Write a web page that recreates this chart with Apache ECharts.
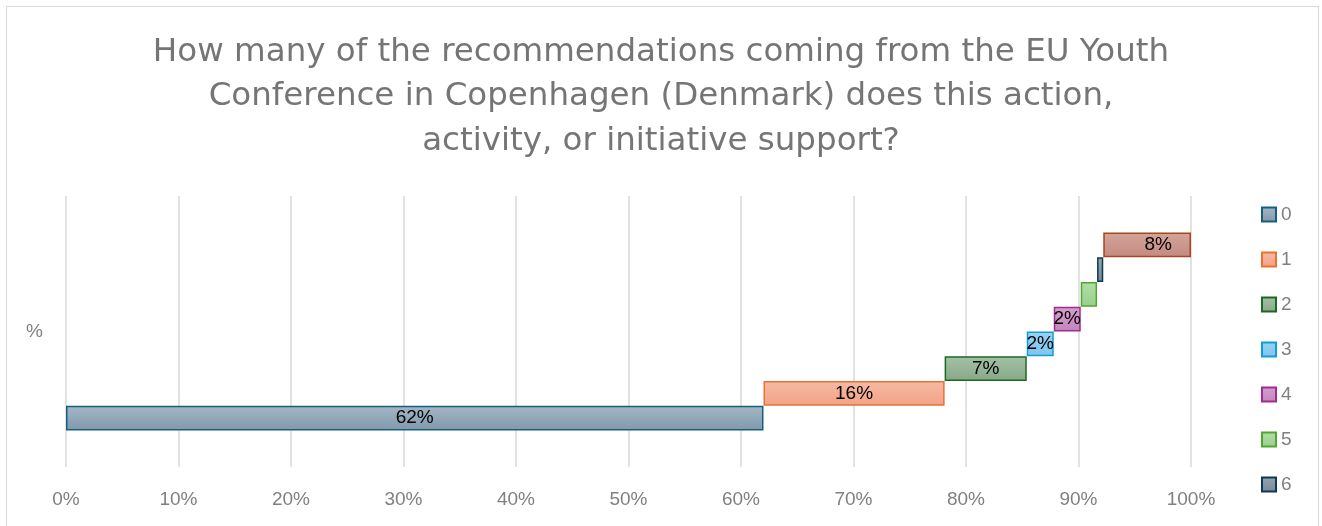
<!DOCTYPE html>
<html>
<head>
<meta charset="utf-8">
<script src="https://cdn.jsdelivr.net/npm/echarts@6/dist/echarts.min.js"></script>
<style>
  html, body { margin: 0; padding: 0; background: #fff; }
  #main { position: absolute; left: 0; top: 0; width: 1322px; height: 526px; }
  #frame { position: absolute; left: 6px; top: 6px; width: 1311px; height: 560px;
           border: 1.5px solid #d9d9d9; pointer-events: none; }
</style>
</head>
<body>
<div id="main"></div>
<div id="frame"></div>
<script>
// data
var categories = ['%'];
var seriesNames = ['0', '1', '2', '3', '4', '5', '6', '7'];
var values = [62.0, 16.1, 7.3, 2.4, 2.4, 1.45, 0.55, 7.8];
var xTicks = [0, 10, 20, 30, 40, 50, 60, 70, 80, 90, 100];
var legendNames = ['0', '1', '2', '3', '4', '5', '6'];

var borders = ['#156082', '#e97132', '#196b24', '#0f9ed5', '#a02b93', '#4ea72e', '#0e3a4f', '#a5461c'];
var fills = [
    ['#a3b6c5', '#8199ac'],
    ['#f6bba4', '#f1a286'],
    ['#a6c1a6', '#87a887'],
    ['#99d2f3', '#7fc4ee'],
    ['#d3a0ce', '#c384bd'],
    ['#b3dda8', '#98cf8b'],
    ['#95a4b0', '#76899a'],
    ['#d4a49b', '#c38a80']
];
var showLabel = [true, true, true, true, true, false, false, true];

var myChart = echarts.init(document.getElementById('main'));

// where each bar starts
var starts = [];
var acc = 0;
for (var k = 0; k < values.length; k++) {
    starts.push(acc);
    acc += values[k];
}

// echarts puts the first bar group on top, so add them last to first
var series = [];
for (var i = values.length - 1; i >= 0; i--) {
    series.push({
        name: 'base' + i,
        type: 'bar',
        stack: 's' + i,
        silent: true,
        barWidth: 24.75,
        barGap: '0%',
        itemStyle: { color: 'transparent' },
        data: [starts[i]]
    });
    series.push({
        name: seriesNames[i],
        type: 'bar',
        stack: 's' + i,
        barWidth: 24.75,
        barGap: '0%',
        itemStyle: {
            color: new echarts.graphic.LinearGradient(0, 0, 0, 1, [
                { offset: 0, color: fills[i][0] },
                { offset: 1, color: fills[i][1] }
            ]),
            borderColor: borders[i],
            borderWidth: 1.5
        },
        label: {
            show: showLabel[i],
            position: 'inside',
            offset: i === 7 ? [11, 0] : [0, 0],
            color: '#000',
            fontSize: 19,
            fontFamily: 'Liberation Sans',
            formatter: function (p) { return Math.round(p.value) + '%'; }
        },
        data: [values[i]]
    });
}

var option = {
    animation: false,
    title: {
        text: 'How many of the recommendations coming from the EU Youth\nConference in Copenhagen (Denmark) does this action,\nactivity, or initiative support?',
        left: 'center',
        top: 25,
        textStyle: {
            color: '#757575',
            fontSize: 32.5,
            fontWeight: 'normal',
            fontFamily: 'DejaVu Sans',
            lineHeight: 44.5
        }
    },
    legend: {
        data: legendNames,
        orient: 'vertical',
        left: 1256,
        top: 200,
        itemWidth: 14,
        itemHeight: 14,
        itemGap: 26,
        icon: 'rect',
        textStyle: { color: '#808080', fontSize: 19, fontFamily: 'Liberation Sans' }
    },
    grid: { left: 66, right: 131, top: 196, bottom: 59 },
    xAxis: {
        type: 'value',
        min: 0,
        max: 100,
        interval: 10,
        axisLine: { show: false },
        axisTick: { show: false },
        splitLine: { lineStyle: { color: '#d9d9d9', width: 1.5 } },
        axisLabel: {
            color: '#808080',
            fontSize: 19,
            fontFamily: 'Liberation Sans',
            margin: 23,
            formatter: function (v) { return xTicks.indexOf(v) >= 0 ? v + '%' : ''; }
        }
    },
    yAxis: {
        type: 'category',
        data: categories,
        axisLine: { show: false },
        axisTick: { show: false },
        axisLabel: { color: '#808080', fontSize: 19, fontFamily: 'Liberation Sans', margin: 23 }
    },
    series: series
};

myChart.setOption(option);
</script>
</body>
</html>
